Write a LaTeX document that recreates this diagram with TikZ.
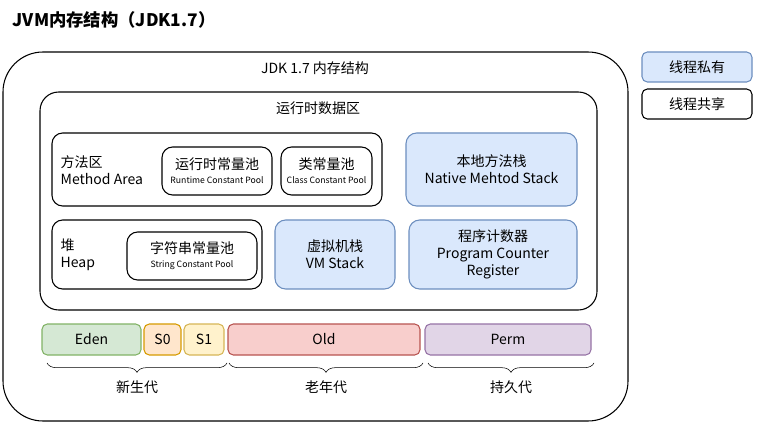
\documentclass[tikz,border=0pt]{standalone}
\usepackage{fontspec}
\setmainfont{Noto Sans CJK SC}
\usetikzlibrary{decorations.pathreplacing}
\definecolor{privfill}{HTML}{DAE8FC}
\definecolor{privline}{HTML}{6C8EBF}
\definecolor{edenfill}{HTML}{D5E8D4}\definecolor{edenline}{HTML}{82B366}
\definecolor{s0fill}{HTML}{FFE6CC}\definecolor{s0line}{HTML}{D79B00}
\definecolor{s1fill}{HTML}{FFF2CC}\definecolor{s1line}{HTML}{D6B656}
\definecolor{oldfill}{HTML}{F8CECC}\definecolor{oldline}{HTML}{B85450}
\definecolor{permfill}{HTML}{E1D5E7}\definecolor{permline}{HTML}{9673A6}
\tikzset{
  box/.style={draw=black,thick,rounded corners=8pt,fill=white},
  privbox/.style={draw=privline,thick,rounded corners=8pt,fill=privfill},
  genbox/.style={thick,rounded corners=4pt},
  brace/.style={decorate,decoration={brace,mirror,amplitude=7pt}},
  lbl/.style={font=\fontsize{10.5}{12.5}\selectfont,align=center},
}
\begin{document}
\begin{tikzpicture}[x=0.75pt,y=-0.75pt]
\useasboundingbox (0,0) rectangle (764,424);
% title
\node[anchor=west,font=\bfseries\fontsize{13}{15}\selectfont] (title) at (8,20) {JVM内存结构（JDK1.7）};
% outer frame
\draw[box,rounded corners=30pt] (3,52) rectangle (628,421);
\node[lbl] (jdk) at (315,68) {JDK 1.7 内存结构};
% legend
\draw[privbox,rounded corners=4pt] (642,52) rectangle node[lbl] (priv) {线程私有} (752,82);
\draw[box,rounded corners=4pt] (642,89) rectangle node[lbl] (share) {线程共享} (752,119);
% runtime data area
\draw[box,rounded corners=14pt] (40,92) rectangle (597,310);
\node[lbl] (rt) at (318,108) {运行时数据区};
% method area
\draw[box] (52,133) rectangle (382,206);
\node[lbl,anchor=west,align=left] (ma) at (56,170) {方法区\\Method Area};
\draw[box] (162,147) rectangle node[lbl] (rcp) {运行时常量池\\[-2pt]{\fontsize{6.5}{8}\selectfont Runtime Constant Pool}} (272,195);
\draw[box] (281,147) rectangle node[lbl] (ccp) {类常量池\\[-2pt]{\fontsize{6.5}{8}\selectfont Class Constant Pool}} (372,195);
% heap
\draw[box] (52,220) rectangle (262,289);
\node[lbl,anchor=west,align=left] (heap) at (56,255) {堆\\Heap};
\draw[box] (127,232) rectangle node[lbl] (scp) {字符串常量池\\[-2pt]{\fontsize{6.5}{8}\selectfont String Constant Pool}} (257,280);
% thread private areas
\draw[privbox] (275,220) rectangle node[lbl] (vms) {虚拟机栈\\VM Stack} (395,289);
\draw[privbox] (406,133) rectangle node[lbl] (nms) {本地方法栈\\Native Mehtod Stack} (577,206);
\draw[privbox] (409,220) rectangle node[lbl,align=center] (pc) {程序计数器\\Program Counter\\Register} (577,289);
% generations
\draw[genbox,draw=edenline,fill=edenfill] (42,324) rectangle node[lbl] (eden) {Eden} (141,355);
\draw[genbox,draw=s0line,fill=s0fill] (144,324) rectangle node[lbl] (s0) {S0} (181,355);
\draw[genbox,draw=s1line,fill=s1fill] (184,324) rectangle node[lbl] (s1) {S1} (224,355);
\draw[genbox,draw=oldline,fill=oldfill] (228,324) rectangle node[lbl] (old) {Old} (420,355);
\draw[genbox,draw=permline,fill=permfill] (425,324) rectangle node[lbl] (perm) {Perm} (591,355);
% braces
\draw[brace] (47,363) -- node[lbl,below=10pt] (young) {新生代} (227,363);
\draw[brace] (229,363) -- node[lbl,below=10pt] (tenured) {老年代} (423,363);
\draw[brace] (428,363) -- node[lbl,below=10pt] (permgen) {持久代} (594,363);
\end{tikzpicture}
\end{document}
